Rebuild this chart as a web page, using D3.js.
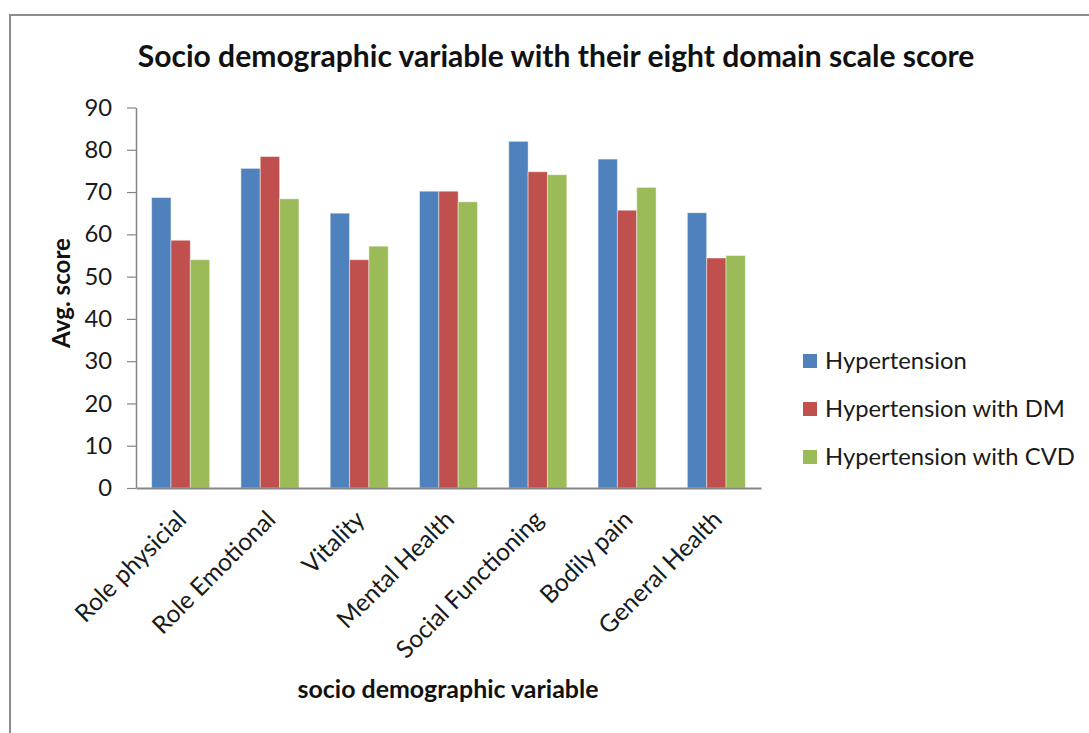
<!DOCTYPE html>
<html><head><meta charset="utf-8">
<script src="https://cdn.jsdelivr.net/npm/d3@7"></script>
<style>html,body{margin:0;padding:0;background:#fff;}svg{display:block;}</style>
</head><body>
<svg id="chart" width="1089" height="733"></svg>
<script>
const categories = ["Role physicial","Role Emotional","Vitality","Mental Health","Social Functioning","Bodily pain","General Health"];
const seriesNames = ["Hypertension","Hypertension with DM","Hypertension with CVD"];
const hypertension = [68.7, 75.6, 65.0, 70.2, 82.0, 77.8, 65.1];
const hypertensionDM = [58.6, 78.4, 54.0, 70.2, 74.8, 65.7, 54.4];
const hypertensionCVD = [54.0, 68.4, 57.2, 67.7, 74.1, 71.1, 55.0];
const yTicks = [0,10,20,30,40,50,60,70,80,90];
const colors = ["#4F81BD","#C0504D","#9BBB59"];
const seriesValues = [hypertension, hypertensionDM, hypertensionCVD];

const font = "Lato, 'Open Sans', sans-serif";
const svg = d3.select("#chart");

// helper: font size so a text has the given width
function fitSize(text, width, weight){
  const t = svg.append("text").attr("font-family",font).attr("font-weight",weight||"normal")
    .attr("font-size",100).text(text);
  const w = t.node().getComputedTextLength();
  t.remove();
  return 100*width/w;
}
const labelSize = fitSize("Hypertension with CVD", 250);
const catSize = fitSize("Social Functioning", 196);
const titleSize = fitSize("Socio demographic variable with their eight domain scale score", 837, "bold");
const xTitleSize = fitSize("socio demographic variable", 301, "bold");
const yTitleSize = fitSize("Avg. score", 110, "bold");

// outer border
svg.append("rect").attr("x",10).attr("y",15).attr("width",1100).attr("height",740)
  .attr("fill","none").attr("stroke","#8c8c8c").attr("stroke-width",2);

const plotLeft = 136, plotRight = 761, plotTop = 107.5, plotBottom = 488;
const x0 = d3.scaleBand().domain(categories).range([plotLeft,plotRight]).paddingInner(0.35).paddingOuter(0.175);
const x1 = d3.scaleBand().domain(seriesNames).range([0,x0.bandwidth()]);
const y = d3.scaleLinear().domain([0,90]).range([plotBottom,plotTop]);

// bars
const g = svg.append("g");
categories.forEach((c,i)=>{
  seriesNames.forEach((s,j)=>{
    g.append("rect")
      .attr("x", x0(c)+x1(s))
      .attr("y", y(seriesValues[j][i]))
      .attr("width", x1.bandwidth())
      .attr("height", y(0)-y(seriesValues[j][i]))
      .attr("fill", colors[j])
      .attr("stroke", "rgba(255,255,255,0.45)")
      .attr("stroke-width", 1);
  });
});

// y axis
const yAxis = svg.append("g").attr("transform",`translate(${plotLeft},0)`)
  .call(d3.axisLeft(y).tickValues(yTicks).tickSize(9).tickPadding(15).tickSizeOuter(0));
yAxis.select(".domain").attr("stroke","#868686").attr("stroke-width",1.5);
yAxis.selectAll(".tick line").attr("stroke","#868686").attr("stroke-width",1.2);
yAxis.selectAll(".tick text").attr("font-family",font).attr("font-size",labelSize).attr("fill","#1a1a1a");

// x axis line
const xAxis = svg.append("g").attr("transform",`translate(0,${plotBottom})`)
  .call(d3.axisBottom(x0).tickSize(0).tickSizeOuter(0).tickFormat(""));
xAxis.select(".domain").attr("stroke","#868686").attr("stroke-width",2);

// category labels
svg.append("g").selectAll("text").data(categories).join("text")
  .attr("transform", d=>`translate(${x0(d)+x0.bandwidth()/2+1},${plotBottom+27}) rotate(-45)`)
  .attr("text-anchor","end").attr("dy","0.35em")
  .attr("font-family",font).attr("font-size",catSize).attr("fill","#1a1a1a")
  .text(d=>d);

// title
svg.append("text").attr("x",556).attr("y",67).attr("text-anchor","middle")
  .attr("font-family",font).attr("font-weight","bold").attr("font-size",titleSize).attr("fill","#111")
  .text("Socio demographic variable with their eight domain scale score");

// axis titles
svg.append("text").attr("transform","translate(70,293) rotate(-90)").attr("text-anchor","middle")
  .attr("font-family",font).attr("font-weight","bold").attr("font-size",yTitleSize).attr("fill","#111")
  .text("Avg. score");
svg.append("text").attr("x",448).attr("y",698).attr("text-anchor","middle")
  .attr("font-family",font).attr("font-weight","bold").attr("font-size",xTitleSize).attr("fill","#111")
  .text("socio demographic variable");

// legend
const leg = svg.append("g");
seriesNames.forEach((s,j)=>{
  const cy = 361 + j*48;
  leg.append("rect").attr("x",803).attr("y",cy-7).attr("width",14).attr("height",14).attr("fill",colors[j]);
  leg.append("text").attr("x",825).attr("y",cy).attr("dy","0.35em")
    .attr("font-family",font).attr("font-size",labelSize).attr("fill","#1a1a1a").text(s);
});
</script>
</body></html>
